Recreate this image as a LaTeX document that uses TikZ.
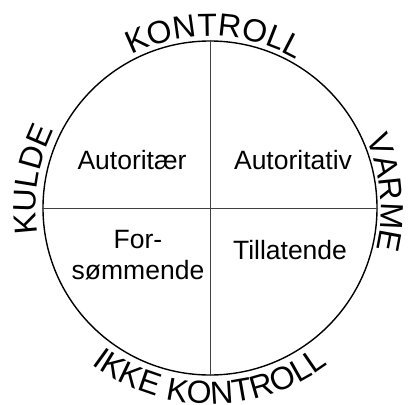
\documentclass[tikz,border=0pt]{standalone}
\usepackage{fontspec}
\setmainfont{Liberation Sans}
\usetikzlibrary{decorations.text}
\newcommand\arcfont{\fontsize{32}{38}\selectfont}
\newcommand\quadfont{\fontsize{26.5}{31}\selectfont}
\begin{document}
\begin{tikzpicture}[x=1pt, y=1pt, line cap=round, line join=round,
    quadrant/.style={font=\quadfont, inner sep=0pt, align=center},
    rim/.style={decorate, decoration={text along path, text align=center}}]
  \useasboundingbox (-210, -196) rectangle (201, 208);

  % Outer circle
  \node[draw, circle, line width=1.4pt, minimum size=334pt, inner sep=0pt] (ring) at (0, 0) {};

  % Cross lines
  \draw[line width=0.9pt, black!75] (ring.north) -- (ring.south);
  \draw[line width=0.9pt, black!75] (ring.west) -- (ring.east);

  % Labels round the rim
  \path[rim, decoration={text={|\arcfont|KONTROLL}}] (150:172) arc[start angle=150, end angle=27, radius=172];
  \path[rim, decoration={text={|\arcfont|KULDE}}] (200:174) arc[start angle=200, end angle=142, radius=174];
  \path[rim, decoration={text={|\arcfont|VARME}}] (35:171) arc[start angle=35, end angle=-25, radius=171];
  \path[rim, decoration={text={|\arcfont|IKKE KONTROLL}}] (195:196) arc[start angle=195, end angle=345, radius=196];

  % Quadrants
  \node[quadrant, anchor=base] (autoritaer) at (-78, 39) {Autoritær};
  \node[quadrant, anchor=base] (autoritativ) at (83, 39) {Autoritativ};
  \node[quadrant] (forsommende) at (-72, -47) {For-\\sømmende};
  \node[quadrant, anchor=base] (tillatende) at (80, -51) {Tillatende};
\end{tikzpicture}
\end{document}
